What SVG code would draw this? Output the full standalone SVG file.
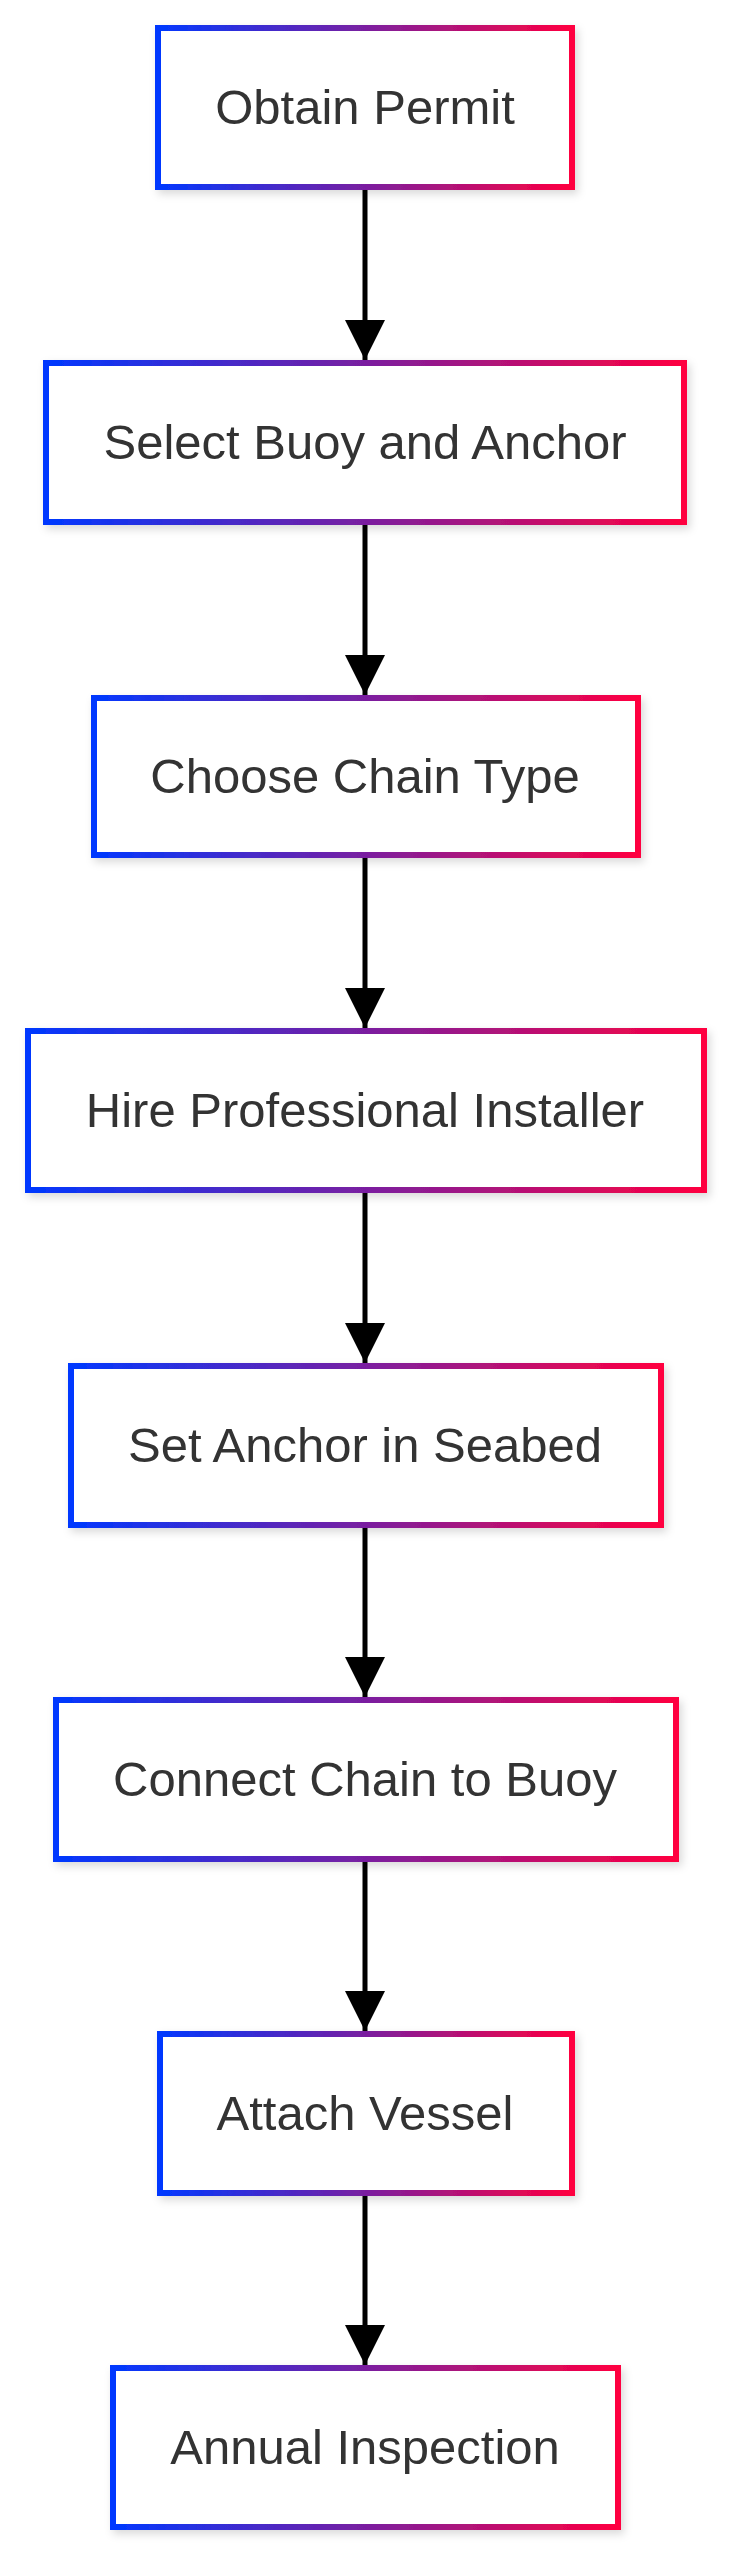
<svg xmlns="http://www.w3.org/2000/svg" width="732" height="2560" viewBox="0 0 732 2560">
<style>
.box{fill:#fff;stroke:url(#g);stroke-width:6;filter:url(#sh)}
.t{font-family:"Liberation Sans",Arial,sans-serif;font-size:49px;fill:#333;text-anchor:middle;dominant-baseline:central}
.e{stroke:#000;stroke-width:5;fill:none;marker-end:url(#ah)}
</style>
<defs>
<linearGradient id="g" x1="0" y1="0" x2="1" y2="0"><stop offset="0" stop-color="#0038ff"/><stop offset="0.5" stop-color="#7a1fa0"/><stop offset="1" stop-color="#ff0040"/></linearGradient>
<filter id="sh" x="-10%" y="-20%" width="120%" height="140%"><feDropShadow dx="3" dy="4" stdDeviation="4" flood-color="#000" flood-opacity="0.15"/></filter>
<marker id="ah" viewBox="0 0 10 10" refX="10" refY="5" markerWidth="8" markerHeight="9" markerUnits="strokeWidth" orient="auto"><path d="M0,0L10,5L0,10z" fill="#000"/></marker>
</defs>
<rect width="732" height="2560" fill="#fff"/>
<g id="edges">
<line class="e" x1="365" y1="187" x2="365" y2="360"/>
<line class="e" x1="365" y1="522" x2="365" y2="695"/>
<line class="e" x1="365" y1="855" x2="365" y2="1028"/>
<line class="e" x1="365" y1="1190" x2="365" y2="1363"/>
<line class="e" x1="365" y1="1525" x2="365" y2="1697"/>
<line class="e" x1="365" y1="1859" x2="365" y2="2031"/>
<line class="e" x1="365" y1="2193" x2="365" y2="2365"/>
</g>
<g id="n1"><rect class="box" x="158" y="28" width="414" height="159"/><text class="t" x="365" y="107">Obtain Permit</text></g>
<g id="n2"><rect class="box" x="46" y="363" width="638" height="159"/><text class="t" x="365" y="442">Select Buoy and Anchor</text></g>
<g id="n3"><rect class="box" x="94" y="698" width="544" height="157"/><text class="t" x="365" y="776">Choose Chain Type</text></g>
<g id="n4"><rect class="box" x="28" y="1031" width="676" height="159"/><text class="t" x="365" y="1110">Hire Professional Installer</text></g>
<g id="n5"><rect class="box" x="71" y="1366" width="590" height="159"/><text class="t" x="365" y="1445">Set Anchor in Seabed</text></g>
<g id="n6"><rect class="box" x="56" y="1700" width="620" height="159"/><text class="t" x="365" y="1779">Connect Chain to Buoy</text></g>
<g id="n7"><rect class="box" x="160" y="2034" width="412" height="159"/><text class="t" x="365" y="2113">Attach Vessel</text></g>
<g id="n8"><rect class="box" x="113" y="2368" width="505" height="159"/><text class="t" x="365" y="2447">Annual Inspection</text></g>
</svg>
